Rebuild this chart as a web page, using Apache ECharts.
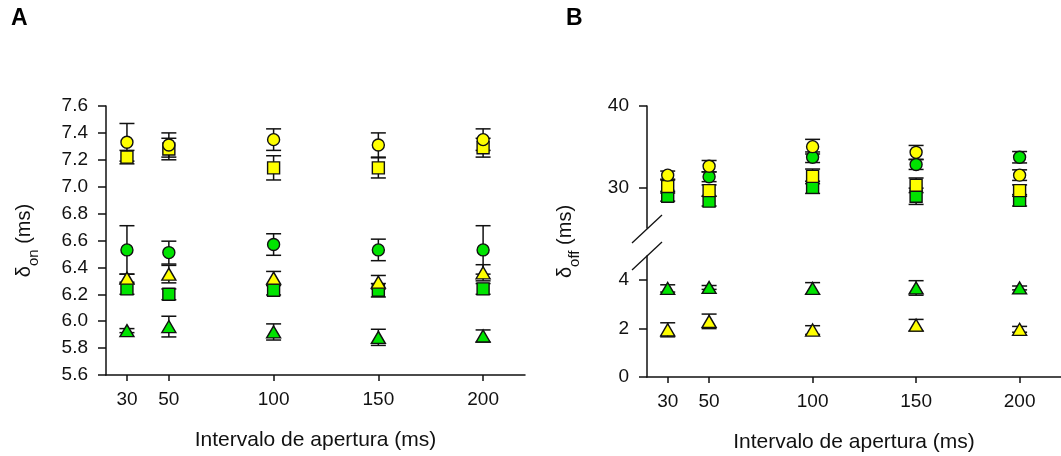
<!DOCTYPE html>
<html>
<head>
<meta charset="utf-8">
<script src="https://cdn.jsdelivr.net/npm/echarts@6/dist/echarts.min.js"></script>
<style>
html, body { margin: 0; padding: 0; background: #fff; }
#chart { width: 1061px; height: 456px; }
</style>
</head>
<body>
<div id="chart"></div>
<script>
// interval values (ms)
const intervals = [30, 50, 100, 150, 200];
const xTicks = [30, 50, 100, 150, 200];
const offUpperTicks = [30, 40];
const offLowerTicks = [0, 2, 4];

// panel A: delta on (ms), mean and error
const onYellowCircle = [7.33, 7.31, 7.35, 7.31, 7.35];
const onYellowCircleErr = [0.14, 0.09, 0.08, 0.09, 0.08];
const onYellowSquare = [7.22, 7.28, 7.14, 7.14, 7.29];
const onYellowSquareErr = [0.05, 0.08, 0.09, 0.075, 0.07];
const onGreenCircle = [6.53, 6.51, 6.57, 6.53, 6.53];
const onGreenCircleErr = [0.18, 0.085, 0.08, 0.08, 0.18];
const onYellowTri = [6.32, 6.35, 6.32, 6.29, 6.36];
const onYellowTriErr = [0.03, 0.065, 0.05, 0.05, 0.06];
const onGreenSquare = [6.24, 6.2, 6.23, 6.23, 6.24];
const onGreenSquareErr = [0.04, 0.04, 0.035, 0.05, 0.04];
const onGreenTri = [5.93, 5.96, 5.92, 5.88, 5.89];
const onGreenTriErr = [0.015, 0.077, 0.06, 0.06, 0.045];

// panel B: delta off (ms)
const offYellowCircle = [31.5, 32.6, 35.0, 34.3, 31.5];
const offYellowCircleErr = [0.5, 0.7, 0.9, 0.85, 0.65];
const offGreenCircle = [null, 31.3, 33.7, 32.8, 33.7];
const offGreenCircleErr = [0, 0.6, 0.65, 0.6, 0.7];
const offYellowSquare = [30.1, 29.6, 31.35, 30.25, 29.6];
const offYellowSquareErr = [0.8, 0.7, 0.9, 0.9, 0.7];
const offGreenSquare = [28.9, 28.3, 30.0, 28.9, 28.4];
const offGreenSquareErr = [0.6, 0.6, 0.75, 1.0, 0.7];
const offGreenTri = [3.66, 3.7, 3.66, 3.68, 3.68];
const offGreenTriErr = [0.15, 0.08, 0.24, 0.3, 0.08];
const offYellowTri = [1.95, 2.3, 1.94, 2.14, 1.97];
const offYellowTriErr = [0.29, 0.3, 0.18, 0.24, 0.12];

const YELLOW = '#ffff00';
const GREEN = '#00e400';
const INK = '#111';
const FONT = "'Liberation Sans', Arial, sans-serif";

let myChart = echarts.init(document.getElementById('chart'));

function points(vals, errs)
{
    let out = [];
    vals.forEach(function (v, i)
    {
        if (v !== null) out.push([intervals[i], v, errs[i]]);
    });
    return out;
}

// error bars + markers for one group
function group(vals, errs, axis, color, symbol, size)
{
    let data = points(vals, errs);
    return [{
        type: 'custom',
        xAxisIndex: axis,
        yAxisIndex: axis,
        data: data,
        encode: {x: 0, y: 1},
        silent: true,
        renderItem: function (params, api)
        {
            let x = api.value(0), y = api.value(1), e = api.value(2);
            let top = api.coord([x, y + e]);
            let bot = api.coord([x, y - e]);
            let half = 7.5;
            let style = {stroke: INK, lineWidth: 1.5};
            return {
                type: 'group',
                children: [
                    {type: 'line', shape: {x1: top[0], y1: top[1], x2: bot[0], y2: bot[1]}, style: style},
                    {type: 'line', shape: {x1: top[0] - half, y1: top[1], x2: top[0] + half, y2: top[1]}, style: style},
                    {type: 'line', shape: {x1: bot[0] - half, y1: bot[1], x2: bot[0] + half, y2: bot[1]}, style: style}
                ]
            };
        }
    }, {
        type: 'scatter',
        xAxisIndex: axis,
        yAxisIndex: axis,
        data: data.map(function (d) { return [d[0], d[1]]; }),
        symbol: symbol,
        symbolSize: size,
        itemStyle: {color: color, borderColor: INK, borderWidth: 1.4, opacity: 1},
        emphasis: {disabled: true},
        silent: true
    }];
}

const CIRCLE = 12, SQUARE = 12, TRI = [14, 12];

function xAxisFor(grid, visible)
{
    return {
        type: 'value',
        gridIndex: grid,
        min: 20,
        max: 220,
        show: visible,
        name: 'Intervalo de apertura (ms)',
        nameLocation: 'middle',
        nameGap: 55,
        nameTextStyle: {fontFamily: FONT, fontSize: 21, color: INK},
        axisLine: {show: true, lineStyle: {color: INK, width: 1.5}},
        axisTick: {show: true, length: 6, customValues: xTicks, lineStyle: {color: INK, width: 1.5}},
        axisLabel: {customValues: xTicks, margin: 15, fontFamily: FONT, fontSize: 19, color: INK},
        splitLine: {show: false}
    };
}

function yName(sub)
{
    return {
        name: '{d|δ}{s|' + sub + '}{d| (ms)}',
        nameLocation: 'middle',
        nameGap: 65,
        nameTextStyle: {
            rich: {
                d: {fontFamily: FONT, fontSize: 20, color: INK, lineHeight: 34, verticalAlign: 'middle'},
                s: {fontFamily: FONT, fontSize: 15, color: INK, lineHeight: 15, verticalAlign: 'bottom'}
            }
        }
    };
}

const yLine = {show: true, lineStyle: {color: INK, width: 1.5}};
const yTick = {show: true, length: 8, lineStyle: {color: INK, width: 1.5}};
const yLabel = {margin: 18, fontFamily: FONT, fontSize: 19, color: INK};

let option = {
    backgroundColor: '#fff',
    animation: false,
    title: [
        {text: 'A', left: 11, top: 7, padding: 0, textStyle: {fontFamily: FONT, fontSize: 23, fontWeight: 'bold', color: '#000'}},
        {text: 'B', left: 566, top: 7, padding: 0, textStyle: {fontFamily: FONT, fontSize: 23, fontWeight: 'bold', color: '#000'}}
    ],
    grid: [
        {left: 106, top: 106, width: 419, height: 271},
        {left: 647, top: 106, width: 419, height: 122},
        {left: 647, top: 256, width: 419, height: 121},
        {left: 647, top: 106, width: 419, height: 271}
    ],
    xAxis: [
        xAxisFor(0, true),
        xAxisFor(1, false),
        xAxisFor(2, true),
        xAxisFor(3, false)
    ],
    yAxis: [
        Object.assign({
            type: 'value', gridIndex: 0, min: 5.6, max: 7.6, interval: 0.2,
            axisLine: yLine, axisTick: yTick,
            axisLabel: Object.assign({formatter: function (v) { return v.toFixed(1); }}, yLabel),
            splitLine: {show: false}
        }, yName('on')),
        {
            type: 'value', gridIndex: 1, min: 25, max: 40,
            axisLine: yLine,
            axisTick: Object.assign({customValues: offUpperTicks}, yTick),
            axisLabel: Object.assign({customValues: offUpperTicks}, yLabel),
            splitLine: {show: false}
        },
        {
            type: 'value', gridIndex: 2, min: 0, max: 5,
            axisLine: yLine,
            axisTick: Object.assign({customValues: offLowerTicks}, yTick),
            axisLabel: Object.assign({customValues: offLowerTicks}, yLabel),
            splitLine: {show: false}
        },
        Object.assign({
            type: 'value', gridIndex: 3, min: 0, max: 1,
            axisLine: {show: false}, axisTick: {show: false}, axisLabel: {show: false},
            splitLine: {show: false}
        }, yName('off'))
    ],
    series: [].concat(
        group(onYellowSquare, onYellowSquareErr, 0, YELLOW, 'rect', SQUARE),
        group(onYellowCircle, onYellowCircleErr, 0, YELLOW, 'circle', CIRCLE),
        group(onGreenCircle, onGreenCircleErr, 0, GREEN, 'circle', CIRCLE),
        group(onGreenSquare, onGreenSquareErr, 0, GREEN, 'rect', SQUARE),
        group(onYellowTri, onYellowTriErr, 0, YELLOW, 'triangle', TRI),
        group(onGreenTri, onGreenTriErr, 0, GREEN, 'triangle', TRI),
        group(offGreenSquare, offGreenSquareErr, 1, GREEN, 'rect', SQUARE),
        group(offYellowSquare, offYellowSquareErr, 1, YELLOW, 'rect', SQUARE),
        group(offGreenCircle, offGreenCircleErr, 1, GREEN, 'circle', CIRCLE),
        group(offYellowCircle, offYellowCircleErr, 1, YELLOW, 'circle', CIRCLE),
        group(offGreenTri, offGreenTriErr, 2, GREEN, 'triangle', TRI),
        group(offYellowTri, offYellowTriErr, 2, YELLOW, 'triangle', TRI)
    )
};

myChart.setOption(option);

// axis break marks at the ends of the two y-axis segments
let upperEnd = myChart.convertToPixel({xAxisIndex: 1, yAxisIndex: 1}, [20, 25]);
let lowerEnd = myChart.convertToPixel({xAxisIndex: 2, yAxisIndex: 2}, [20, 5]);
let slash = function (p)
{
    return {
        type: 'line',
        shape: {x1: p[0] - 15, y1: p[1] + 14, x2: p[0] + 15, y2: p[1] - 14},
        style: {stroke: INK, lineWidth: 1.3}
    };
};
myChart.setOption({graphic: [slash([upperEnd[0], upperEnd[1] + 1]), slash([lowerEnd[0], lowerEnd[1]])]});
</script>
</body>
</html>
